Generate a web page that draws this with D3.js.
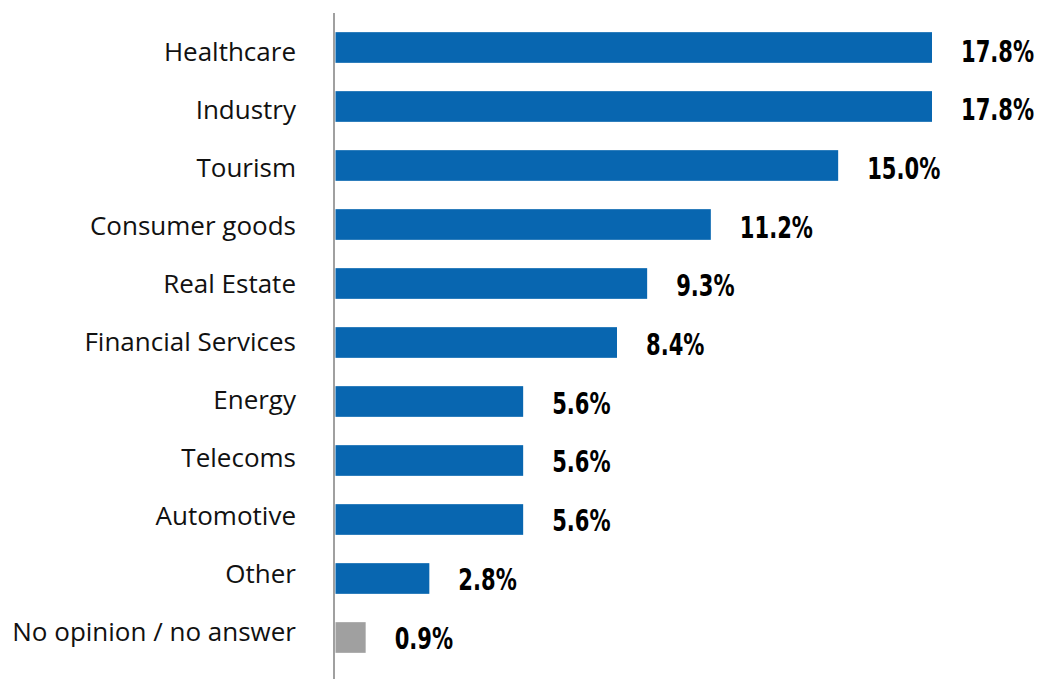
<!DOCTYPE html>
<html>
<head>
<meta charset="utf-8">
<script src="https://cdn.jsdelivr.net/npm/d3@7"></script>
<style>
  html, body { margin: 0; padding: 0; background: #fff; }
  svg { display: block; }
</style>
</head>
<body>
<svg id="chart" width="1039" height="679"></svg>
<script>
// Sector shares, in percent
const categories = [
  "Healthcare", "Industry", "Tourism", "Consumer goods", "Real Estate",
  "Financial Services", "Energy", "Telecoms", "Automotive", "Other",
  "No opinion / no answer"
];
const values = [17.8, 17.8, 15.0, 11.2, 9.3, 8.4, 5.6, 5.6, 5.6, 2.8, 0.9];
const valueLabels = ["17.8%", "17.8%", "15.0%", "11.2%", "9.3%", "8.4%", "5.6%", "5.6%", "5.6%", "2.8%", "0.9%"];
const neutralCategory = "No opinion / no answer";

const data = categories.map((c, i) => ({ category: c, value: values[i], label: valueLabels[i] }));

const svg = d3.select("#chart");
const axisX = 334;

const x = d3.scaleLinear().domain([0, 17.8]).range([axisX + 1.5, 932]);
// Bar rows
const y = d3.scaleBand().domain(categories).range([18, 667])
  .paddingInner(0.48).paddingOuter(0.24);
// Text rows (category names and value labels sit on a slightly tighter pitch)
const yLabel = d3.scalePoint().domain(categories).range([51, 631.7]);
const yValue = d3.scalePoint().domain(categories).range([61.5, 648.5]);

// Bars
svg.append("g").selectAll("rect").data(data).join("rect")
  .attr("x", x(0))
  .attr("y", d => y(d.category))
  .attr("width", d => x(d.value) - x(0))
  .attr("height", y.bandwidth())
  .attr("fill", d => d.category === neutralCategory ? "#a0a0a0" : "#0866b0");

// Category labels
const yAxis = svg.append("g")
  .attr("transform", `translate(${axisX},0)`)
  .call(d3.axisLeft(yLabel).tickSize(0).tickPadding(38));
yAxis.select(".domain").remove();
yAxis.selectAll("text")
  .attr("font-family", "'Open Sans', sans-serif")
  .attr("font-size", 26)
  .attr("fill", "#111")
  .attr("dy", "0.35em");

// Vertical axis line
svg.append("line")
  .attr("x1", axisX).attr("x2", axisX)
  .attr("y1", 13).attr("y2", 679)
  .attr("stroke", "#a0a0a0").attr("stroke-width", 2);

// Value labels, set in a condensed bold style
const valueText = svg.append("g").selectAll("text").data(data).join("text")
  .attr("x", d => x(d.value) + 29)
  .attr("y", d => yValue(d.category))
  .attr("font-family", "'DejaVu Sans', sans-serif")
  .attr("font-weight", "bold")
  .attr("font-size", 31)
  .attr("fill", "#000")
  .text(d => d.label);
valueText.each(function () {
  const w = this.getComputedTextLength();
  d3.select(this)
    .attr("textLength", w * 0.68)
    .attr("lengthAdjust", "spacingAndGlyphs");
});
</script>
</body>
</html>
